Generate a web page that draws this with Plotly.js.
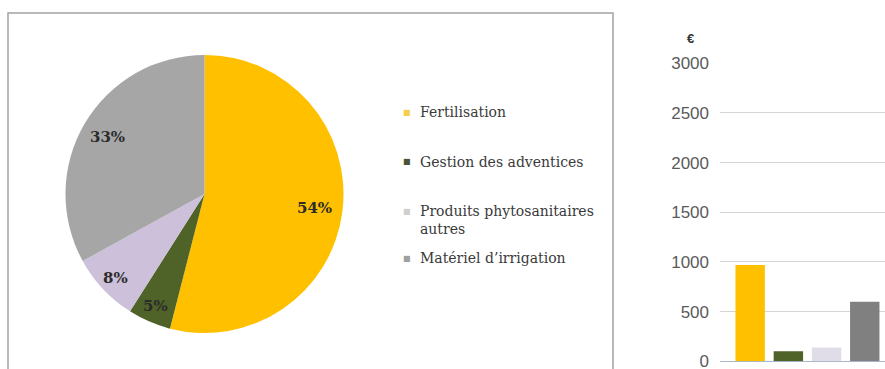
<!DOCTYPE html>
<html>
<head>
<meta charset="utf-8">
<script src="https://cdn.plot.ly/plotly-3.0.1.min.js"></script>
<style>
  html, body { margin: 0; padding: 0; background: #ffffff; }
  #chart { width: 885px; height: 369px; }
</style>
</head>
<body>
<div id="chart"></div>
<script>
// ---- data ----
const categories = ['Fertilisation', 'Gestion des adventices', 'Produits phytosanitaires autres', 'Matériel d’irrigation'];
const legendLabels = ['Fertilisation', 'Gestion des adventices', 'Produits phytosanitaires<br>autres', 'Matériel d’irrigation'];
const piePercent = [54, 5, 8, 33];
const barValues = [970, 100, 140, 600];
const yTickValues = [0, 500, 1000, 1500, 2000, 2500, 3000];
const currencyLabel = '€';

// ---- styles ----
const pieColors = ['#FFC000', '#4F6228', '#CCC0DA', '#A6A6A6'];
const barColors = ['#FFC000', '#4F6228', '#E1DDE8', '#808080'];
const legendMarkerColors = ['#F5CF4A', '#4A5438', '#CFCFCF', '#A0A0A0'];

const W = 885, H = 369;
// pie geometry (pixels)
const pieLeft = 65, pieRight = 344, pieTop = 55, pieBottom = 333;
const labelRadius = [0.80, 0.88, 0.88, 0.81];
// legend layout (pixels)
const legendMarkerX = 407, legendTextX = 418;
const legendFirstLineY = [112, 162, 211, 258];

const px = v => v / W;
const py = v => (H - v) / H;

const pieTrace = {
  type: 'pie',
  values: piePercent,
  labels: categories,
  sort: false,
  direction: 'clockwise',
  rotation: 0,
  textinfo: 'none',
  hoverinfo: 'label+percent',
  marker: { colors: pieColors, line: { width: 0 } },
  domain: { x: [px(pieLeft), px(pieRight)], y: [py(pieBottom), py(pieTop)] },
  showlegend: false
};

const barTrace = {
  type: 'bar',
  x: categories,
  y: barValues,
  marker: { color: barColors, line: { width: 0 } },
  width: 0.77,
  xaxis: 'x',
  yaxis: 'y',
  showlegend: false,
  hoverinfo: 'x+y'
};

const annotations = [];
// pie percentage labels, placed along each slice's mid angle
const total = piePercent.reduce((a, b) => a + b, 0);
const cx = (pieLeft + pieRight) / 2, cy = (pieTop + pieBottom) / 2;
const R = Math.min(pieRight - pieLeft, pieBottom - pieTop) / 2;
let cum = 0;
piePercent.forEach((v, i) => {
  const mid = (cum + v / 2) / total;
  cum += v;
  const th = 2 * Math.PI * mid;
  const x = cx + Math.sin(th) * R * labelRadius[i];
  const y = cy - Math.cos(th) * R * labelRadius[i];
  annotations.push({
    xref: 'paper', yref: 'paper', x: px(x), y: py(y),
    xanchor: 'center', yanchor: 'middle', showarrow: false,
    text: '<b>' + Math.round(v / total * 100) + '%</b>',
    font: { family: 'DejaVu Serif', size: 15, color: '#2b2b2b' }
  });
});

// legend
legendLabels.forEach((lab, i) => {
  annotations.push({
    xref: 'paper', yref: 'paper', x: px(legendMarkerX), y: py(legendFirstLineY[i]),
    xanchor: 'center', yanchor: 'middle', showarrow: false,
    text: '■', font: { family: 'DejaVu Sans', size: 8, color: legendMarkerColors[i] }
  });
  annotations.push({
    xref: 'paper', yref: 'paper', x: px(legendTextX), y: py(legendFirstLineY[i] - 10),
    xanchor: 'left', yanchor: 'top', align: 'left', showarrow: false,
    text: lab, font: { family: 'DejaVu Serif', size: 14, color: '#3a3a3a' }
  });
});

// currency label above the bar axis
annotations.push({
  xref: 'paper', yref: 'paper', x: px(690), y: py(38),
  xanchor: 'center', yanchor: 'middle', showarrow: false,
  text: '<b>' + currencyLabel + '</b>',
  font: { family: 'Liberation Sans', size: 13, color: '#333333' }
});

const layout = {
  width: W, height: H,
  margin: { l: 0, r: 0, t: 0, b: 0 },
  paper_bgcolor: '#ffffff',
  plot_bgcolor: '#ffffff',
  showlegend: false,
  xaxis: {
    domain: [px(720), 1],
    type: 'category',
    range: [-0.79, 3.53],
    showticklabels: false,
    showgrid: false,
    zeroline: false,
    showline: false,
    ticks: ''
  },
  yaxis: {
    domain: [py(361.3), py(63.3)],
    range: [0, 3000],
    tickvals: yTickValues,
    ticktext: yTickValues.map(String),
    tickfont: { family: 'Liberation Sans', size: 17, color: '#5a5a5a' },
    ticklabelstandoff: 10,
    ticklabeloverflow: 'allow',
    showgrid: true,
    gridcolor: '#D4D4D4',
    gridwidth: 1,
    zeroline: true,
    zerolinecolor: '#A9B8CC',
    zerolinewidth: 1.5,
    showline: false,
    ticks: ''
  },
  shapes: [{
    type: 'rect', xref: 'paper', yref: 'paper',
    x0: px(8), x1: px(613), y0: -0.1, y1: py(13),
    line: { color: '#A3A3A3', width: 1.5 },
    fillcolor: 'rgba(0,0,0,0)', layer: 'below'
  }],
  annotations: annotations
};

Plotly.newPlot('chart', [pieTrace, barTrace], layout, { displayModeBar: false, staticPlot: true });
</script>
</body>
</html>
